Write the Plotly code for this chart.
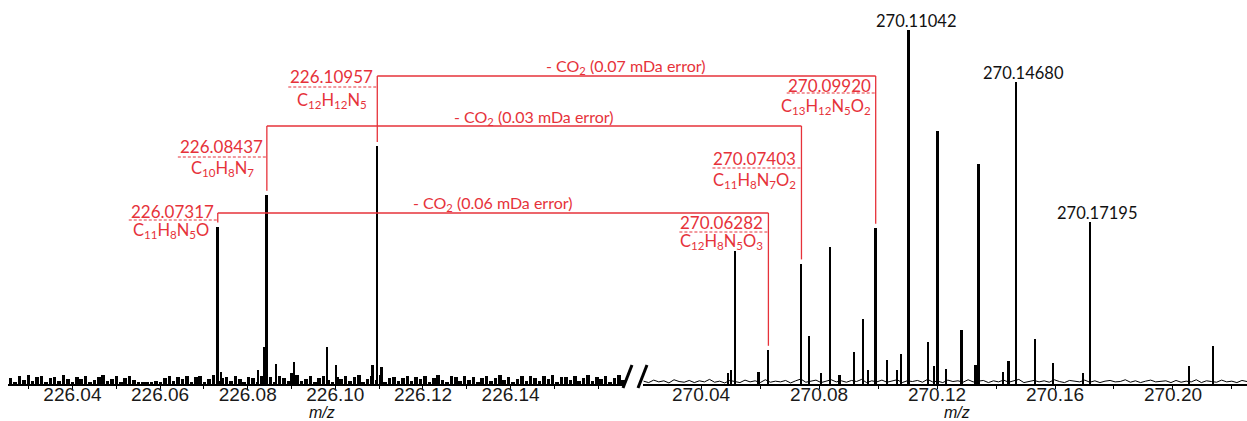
import numpy as np
import plotly.graph_objects as go

# ---------------- data ----------------
left_mz = [226.07317, 226.07402, 226.08242, 226.08372, 226.08437, 226.08646,
           226.09005, 226.09064, 226.09817, 226.10016, 226.10854, 226.10957, 226.11059]
left_int = [44.4, 3.4, 4.0, 10.5, 53.4, 5.6, 3.2, 6.2, 10.5, 5.4, 5.4, 67.2, 4.8]

right_mz = [270.04915, 270.05017, 270.05153, 270.05953, 270.06282, 270.07403, 270.07660,
            270.08068, 270.08373, 270.08698, 270.09186, 270.09492, 270.09678, 270.09920,
            270.10305, 270.10644, 270.10780, 270.11042, 270.11712, 270.11915, 270.12020,
            270.12305, 270.12837, 270.13308, 270.13417, 270.14237, 270.14434, 270.14680,
            270.15342, 270.15932, 270.16949, 270.17195, 270.20559, 270.21376]
right_int = [3.0, 4.0, 37.6, 3.4, 9.6, 34.0, 13.6,
             3.0, 38.7, 2.5, 9.0, 18.4, 4.0, 44.1,
             6.8, 4.0, 8.5, 100.0, 11.9, 5.0, 71.5,
             4.2, 15.3, 5.4, 62.1, 3.5, 6.5, 85.3,
             12.7, 5.9, 3.0, 45.8, 5.0, 10.7]

left_noise = [1.8, 0.6, 2.2, 1.1, 2.5, 0.8, 1.9, 2.4, 0.5, 1.6, 2.1, 0.9, 2.6, 1.3, 0.7, 2.0, 1.5, 2.3, 0.6, 1.2,
              1.9, 2.5, 0.8, 1.4, 2.2, 0.5, 1.7, 2.4, 1.0, 0.6, 0.4, 0.7, 0.5, 0.9, 0.6, 1.8, 2.3, 0.8, 2.1, 1.5,
              2.4, 0.7, 1.9, 2.2, 0.6, 1.3, 2.5, 0.9, 1.7, 2.0, 0.8, 2.3, 1.4, 0.6, 2.1, 1.8, 0.7, 2.4, 1.1, 1.9,
              0.5, 2.2, 1.6, 0.8, 2.0, 2.5, 0.9, 1.3, 2.2, 0.7, 1.8, 2.4, 1.0, 0.6, 2.1, 1.5, 2.3, 0.8, 1.9, 2.6,
              0.7, 1.4, 2.2, 1.0, 2.5, 0.6, 1.8, 2.1, 0.9, 1.6, 2.4, 0.8, 2.0, 1.3, 2.3, 0.7, 1.7, 2.5, 1.1, 0.6,
              2.2, 1.9, 0.8, 2.4, 1.2, 2.0, 0.7, 1.6, 2.3, 0.9, 1.8, 2.5, 1.0, 2.1, 0.6, 1.5, 2.4, 0.8, 2.2, 1.7,
              0.9, 2.3, 1.4, 2.6, 0.7, 1.9, 2.1, 1.0, 2.4, 0.8, 1.6, 2.5, 0.9, 2.0, 1.3, 2.2, 0.7, 1.8, 2.6, 1.1]
right_noise = [0.8, 0.4, 1.1, 0.6, 0.9, 0.3, 1.2, 0.7, 0.5, 1.0, 0.4, 0.9, 0.6, 1.3, 0.5, 0.8, 0.3, 1.0, 0.7, 0.4,
               1.1, 0.6, 0.9, 0.4, 1.2, 0.5, 0.8, 0.6, 1.0, 0.3, 0.9, 1.4, 0.5, 0.7, 1.1, 0.4, 0.8, 1.2, 0.6, 0.9,
               0.5, 1.0, 0.7, 1.3, 0.4, 0.9, 0.6, 1.1, 0.5, 0.8, 1.2, 0.4, 0.9, 0.7, 1.0, 0.5, 1.3, 0.6, 0.8, 0.4,
               1.1, 0.7, 0.9, 0.5, 1.2, 0.6, 0.8, 1.0, 0.4, 0.9, 0.6, 1.1, 0.5, 0.8, 1.3, 0.4, 0.7, 1.0, 0.6, 0.9,
               0.5, 1.2, 0.7, 0.4, 1.0, 0.8, 0.6, 1.1, 0.5, 0.9, 0.4, 0.8, 1.0, 0.6, 0.7, 1.2, 0.5, 0.9, 0.4, 0.8,
               1.1, 0.6, 0.7, 0.9, 0.4, 1.0, 0.5, 0.8, 0.6, 1.2, 0.4, 0.9, 0.7, 0.5, 1.1, 0.6, 0.8, 0.4, 1.0, 0.7]

left_tickvals = [226.04, 226.06, 226.08, 226.10, 226.12, 226.14]
left_ticktext = ["226.04", "226.06", "226.08", "226.10", "226.12", "226.14"]
right_tickvals = [270.04, 270.08, 270.12, 270.16, 270.20]
right_ticktext = ["270.04", "270.08", "270.12", "270.16", "270.20"]

# CO2-loss pairs
pair_left_mz = [226.10957, 226.08437, 226.07317]
pair_left_formula = ["C<sub>12</sub>H<sub>12</sub>N<sub>5</sub>",
                     "C<sub>10</sub>H<sub>8</sub>N<sub>7</sub>",
                     "C<sub>11</sub>H<sub>8</sub>N<sub>5</sub>O"]
pair_right_mz = [270.09920, 270.07403, 270.06282]
pair_right_formula = ["C<sub>13</sub>H<sub>12</sub>N<sub>5</sub>O<sub>2</sub>",
                      "C<sub>11</sub>H<sub>8</sub>N<sub>7</sub>O<sub>2</sub>",
                      "C<sub>12</sub>H<sub>8</sub>N<sub>5</sub>O<sub>3</sub>"]
pair_error = ["0.07", "0.03", "0.06"]

black_labels = ["270.11042", "270.14680", "270.17195"]

# ---------------- layout geometry ----------------
W, H = 1247, 421
MB = 37
PH = H - MB               # plot height in px (top margin 0)
YTOP = 108.5
L_RANGE = [226.0253, 226.1661]
R_RANGE = [270.0203, 270.2251]
L_DOM = [8 / W, 625 / W]
R_DOM = [643 / W, 1.0]
RED = "#E6323A"
LABEL_FONT = "Lato"


def ydat(p):
    """pixel row -> data y"""
    return (PH - p) / PH * YTOP


def ypap(p):
    return (PH - p) / PH


def xpap(mz, rng, dom):
    f = (mz - rng[0]) / (rng[1] - rng[0])
    return dom[0] + f * (dom[1] - dom[0])


fig = go.Figure()

# noise floor
lx = np.linspace(L_RANGE[0] + 0.0006, L_RANGE[1] - 0.0004, len(left_noise))
fig.add_trace(go.Bar(x=lx, y=left_noise, width=(lx[1] - lx[0]) * 0.8,
                     marker=dict(color="black", line=dict(width=0)),
                     xaxis="x", yaxis="y", hoverinfo="skip", showlegend=False))
fig.add_trace(go.Scatter(x=np.linspace(R_RANGE[0] + 0.0002, R_RANGE[1], len(right_noise)),
                         y=right_noise, mode="lines", line=dict(color="black", width=1),
                         xaxis="x2", yaxis="y", hoverinfo="skip", showlegend=False))

# peaks
fig.add_trace(go.Bar(x=left_mz, y=left_int, width=0.00040, marker=dict(color="black", line=dict(width=0)),
                     xaxis="x", yaxis="y", showlegend=False))
fig.add_trace(go.Bar(x=right_mz, y=right_int, width=0.0006, marker=dict(color="black", line=dict(width=0)),
                     xaxis="x2", yaxis="y", showlegend=False))

shapes = []
annotations = []

level_px = [76, 126, 213]
lnum_px = [76, 146.5, 211]
ldash_px = [87, 157, 220]
lform_px = [100, 168, 230]
lform_shift = [-8, -11, -7]
rnum_px = [85, 158, 222]
rdash_px = [93, 168, 232]
rform_px = [106, 180, 241]
err_px = [66, 117, 203]
peak_gap = 1.2

for i in range(3):
    lm, rm = pair_left_mz[i], pair_right_mz[i]
    lh = left_int[left_mz.index(lm)]
    rh = right_int[right_mz.index(rm)]
    xl = xpap(lm, L_RANGE, L_DOM)
    xr = xpap(rm, R_RANGE, R_DOM)
    lev = ydat(level_px[i])
    line = dict(color=RED, width=1.3)
    shapes.append(dict(type="line", xref="paper", yref="y", x0=xl, x1=xr, y0=lev, y1=lev, line=line))
    shapes.append(dict(type="line", xref="paper", yref="y", x0=xl, x1=xl, y0=lev, y1=lh + peak_gap, line=line))
    shapes.append(dict(type="line", xref="paper", yref="y", x0=xr, x1=xr, y0=lev, y1=rh + peak_gap, line=line))
    shapes.append(dict(type="line", xref="x", yref="y", xsizemode="pixel", xanchor=lm, x0=-89, x1=0,
                       y0=ydat(ldash_px[i]), y1=ydat(ldash_px[i]), line=dict(color=RED, width=1, dash="3px,2px")))
    shapes.append(dict(type="line", xref="x2", yref="y", xsizemode="pixel", xanchor=rm, x0=-89, x1=-1,
                       y0=ydat(rdash_px[i]), y1=ydat(rdash_px[i]), line=dict(color=RED, width=1, dash="3px,2px")))
    num_font = dict(family=LABEL_FONT, size=17, color=RED)
    form_font = dict(family=LABEL_FONT, size=16.5, color=RED)
    annotations.append(dict(xref="x", yref="y", x=lm, y=ydat(lnum_px[i]), text=f"{lm:.5f}",
                            xanchor="right", yanchor="middle", xshift=-2, showarrow=False, font=num_font))
    annotations.append(dict(xref="x", yref="y", x=lm, y=ydat(lform_px[i]), text=pair_left_formula[i],
                            xanchor="right", yanchor="middle", xshift=lform_shift[i], showarrow=False,
                            font=form_font))
    annotations.append(dict(xref="x2", yref="y", x=rm, y=ydat(rnum_px[i]), text=f"{rm:.5f}",
                            xanchor="right", yanchor="middle", xshift=-3, showarrow=False, font=num_font))
    annotations.append(dict(xref="x2", yref="y", x=rm, y=ydat(rform_px[i]), text=pair_right_formula[i],
                            xanchor="right", yanchor="middle", xshift=-3, showarrow=False, font=form_font))
    annotations.append(dict(xref="paper", yref="y", x=(xl + xr) / 2, y=ydat(err_px[i]),
                            text=f"- CO<sub>2</sub> ({pair_error[i]} mDa error)",
                            xanchor="center", yanchor="middle", showarrow=False,
                            font=dict(family=LABEL_FONT, size=16, color=RED)))

for lab in black_labels:
    mz = float(lab)
    h = right_int[right_mz.index(mz)]
    annotations.append(dict(xref="x2", yref="y", x=mz, y=h, text=lab, xanchor="center", yanchor="middle",
                            xshift=7, yshift=9, showarrow=False,
                            font=dict(family=LABEL_FONT, size=16.5, color="#111111")))

for xp in [322 / W, 957 / W]:
    annotations.append(dict(xref="paper", yref="paper", x=xp, y=ypap(412.5), text="<i>m/z</i>",
                            xanchor="center", yanchor="middle", showarrow=False, borderpad=0,
                            font=dict(family="Liberation Sans", size=16, color="#111111")))

for (xa, xb) in [(623, 632), (638, 647)]:
    shapes.append(dict(type="line", xref="paper", yref="paper", x0=xa / W, x1=xb / W,
                       y0=ypap(388), y1=ypap(365), line=dict(color="black", width=3)))

axis_common = dict(showgrid=False, zeroline=False, showline=True, linecolor="black", linewidth=1.5,
                   ticks="outside", ticklen=3, tickwidth=1, tickcolor="black", ticklabelstandoff=-11,
                   tickfont=dict(family="Liberation Sans", size=19, color="#1a1a1a"), fixedrange=True)

fig.update_layout(
    width=W, height=H,
    margin=dict(l=0, r=0, t=0, b=MB),
    paper_bgcolor="white", plot_bgcolor="white",
    barmode="overlay", bargap=0,
    showlegend=False,
    xaxis=dict(domain=L_DOM, range=L_RANGE, tickmode="array", tickvals=left_tickvals,
               ticktext=left_ticktext, anchor="y",
               minor=dict(dtick=0.01, tick0=226.03, ticks="outside", ticklen=3, tickcolor="black"),
               **axis_common),
    xaxis2=dict(domain=R_DOM, range=R_RANGE, tickmode="array", tickvals=right_tickvals,
                ticktext=right_ticktext, anchor="y",
                minor=dict(dtick=0.02, tick0=270.02, ticks="outside", ticklen=3, tickcolor="black"),
                **axis_common),
    yaxis=dict(range=[0, YTOP], visible=False, fixedrange=True),
    shapes=shapes,
    annotations=annotations,
)

fig.write_html("out.html", config={"displayModeBar": False},
               post_script="document.body.style.margin='0';document.body.style.overflow='hidden';")
